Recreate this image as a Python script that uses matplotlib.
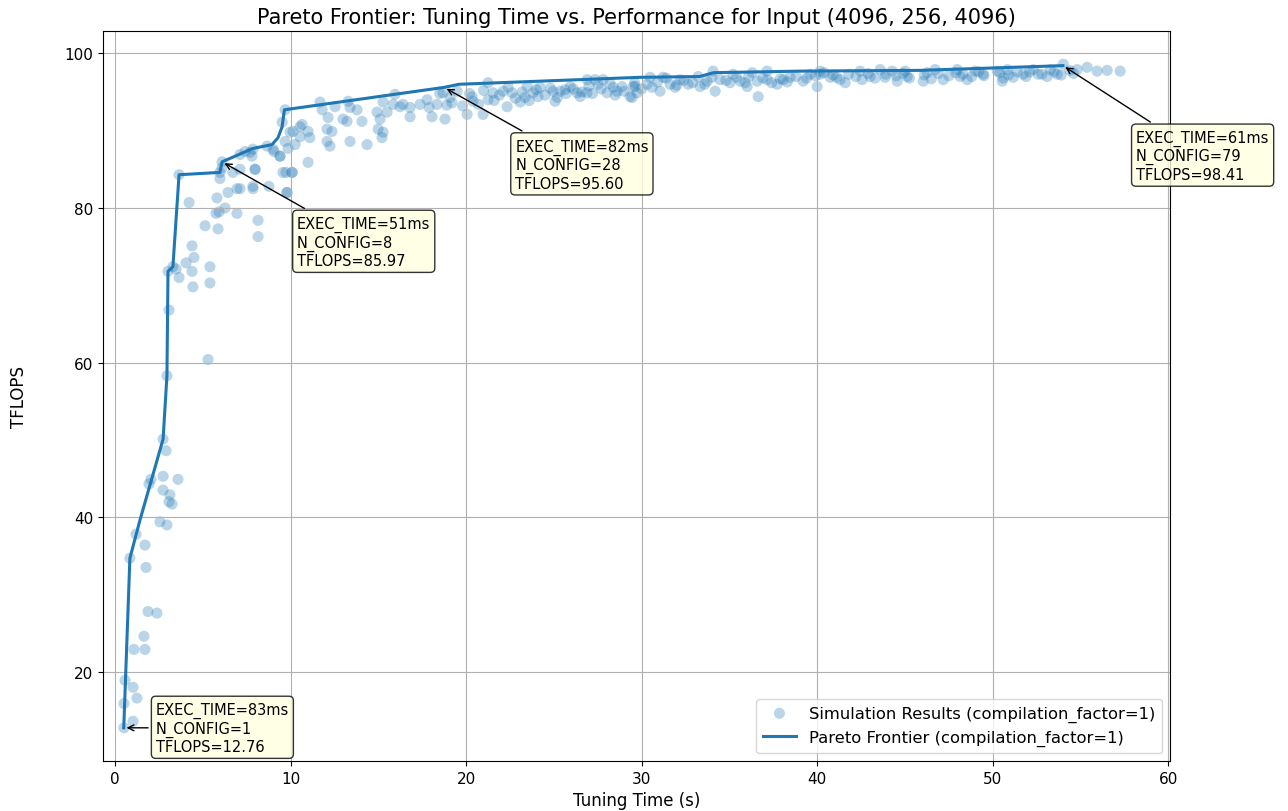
import numpy as np
import matplotlib.pyplot as plt

# simulated tuning runs: cumulative tuning time (s) and achieved TFLOPS
sim_time = [
    0.51, 1.03, 0.51, 1.25, 1.03, 0.57, 1.08, 1.71, 1.65, 1.88, 2.39, 1.77, 0.85,
    1.71, 1.20, 2.56, 2.96, 3.25, 3.08, 3.13, 2.74, 1.94, 2.05, 2.74, 3.59, 2.91,
    2.74, 2.96, 5.30, 3.08, 3.02, 3.30, 3.48, 3.65, 4.05, 4.39, 4.50, 4.39, 4.44,
    5.41, 5.41, 5.13, 5.87, 5.75, 5.93, 6.27, 5.81, 6.95, 4.22, 8.15, 8.15, 3.65,
    5.98, 5.98, 6.10, 6.44, 6.72, 6.95, 7.12, 7.86, 7.86, 7.98, 8.77, 9.80, 9.74,
    10.09, 9.40, 7.12, 7.70, 9.06,
    6.10, 7.12, 7.98, 7.41, 7.86, 7.80, 8.66, 9.00, 9.40, 9.69, 9.57, 10.09, 9.86,
    9.80, 11.00, 9.52, 9.69, 9.97, 10.54, 10.66, 11.00, 11.10, 10.54, 10.14, 10.26,
    11.68, 11.80, 12.14, 12.08, 12.36, 12.08, 12.25, 12.54, 12.99, 13.22, 13.39,
    13.28, 13.79, 14.07, 13.39, 14.36, 14.93, 15.10, 14.99, 15.27, 15.21, 15.50,
    15.27, 15.95, 15.84, 16.24, 16.41, 16.81, 16.81, 17.38, 17.78, 18.06, 18.80,
    18.35, 18.69, 19.09, 19.49, 18.50, 18.90, 17.90,
    20.06, 20.97, 20.40, 20.34, 21.25, 21.25, 21.54, 22.34, 22.11, 22.62, 23.08,
    23.36, 23.48, 23.82, 24.10, 24.22, 25.07, 24.96, 25.36, 25.64, 25.93, 26.32,
    26.50, 26.89, 26.89, 27.35, 27.52, 27.81, 28.03, 28.38, 28.60, 28.89, 29.34,
    29.63,
    19.20, 19.80, 20.20, 20.70, 21.00, 21.60, 21.90, 22.40, 22.80, 23.20, 23.60,
    24.00, 24.50, 24.80, 25.20, 25.70, 26.10, 26.60, 27.00, 27.20, 27.70, 28.20,
    28.50, 29.00, 29.60, 30.00, 30.60,
    29.52, 29.46, 29.74, 30.31, 30.48, 31.05, 31.22, 31.62, 31.91, 32.19, 32.65,
    33.33, 33.22, 33.73, 34.07, 34.19, 34.47, 35.04, 35.21, 35.61, 36.01, 36.30,
    36.64, 36.58, 37.15, 37.15, 37.72, 38.06, 38.46, 39.20, 39.60, 40.00, 40.17,
    30.90, 31.40, 32.00, 32.40, 32.90, 33.60, 34.00, 34.80, 35.40, 35.90, 36.10,
    36.90, 37.40, 37.90, 38.30, 38.80, 39.40, 39.90,
    40.17, 40.74, 41.31, 41.60, 42.45, 42.56, 43.02, 43.59, 43.87, 44.27, 44.56,
    45.01, 45.13, 46.04, 46.27, 46.72, 47.18, 47.98, 48.15, 48.55, 49.00, 49.46,
    50.26, 50.54, 50.83, 51.17, 51.74, 52.31, 52.59, 53.28, 53.68, 54.02, 54.81,
    55.38, 55.95, 56.52, 57.26,
    40.40, 40.90, 41.10, 41.80, 42.20, 42.90, 43.30, 43.90, 44.50, 44.90, 45.25,
    46.10, 46.50, 46.90, 47.50, 47.90, 48.30, 48.80, 49.20, 49.50, 50.40, 50.60,
    50.90, 51.40, 51.90, 52.10, 52.80, 53.10, 53.50, 53.90, 54.40, 54.60,
]
sim_tflops = [
    12.76, 13.6, 15.9, 16.6, 18.0, 18.9, 22.9, 22.9, 24.6, 27.8, 27.6, 33.5, 34.7,
    36.4, 37.8, 39.4, 39.0, 41.7, 42.0, 42.9, 43.5, 44.3, 44.9, 45.3, 44.9, 48.6,
    50.1, 58.3, 60.4, 66.8, 71.8, 72.4, 72.1, 71.0, 72.9, 71.8, 73.6, 75.1, 69.8,
    72.4, 70.3, 77.7, 77.3, 79.3, 79.5, 80.0, 81.3, 79.3, 80.7, 78.4, 76.3, 84.3,
    83.8, 84.6, 85.97, 82.0, 84.6, 82.5, 82.5, 82.5, 82.8, 85.0, 82.8, 82.0, 84.6,
    84.6, 86.7, 86.9, 87.2, 87.3,
    85.2, 85.0, 85.0, 87.3, 87.6, 86.7, 88.0, 87.6, 86.7, 88.6, 84.6, 84.6, 87.7,
    82.0, 85.9, 91.1, 92.7, 89.8, 90.5, 90.8, 89.9, 89.1, 89.2, 89.9, 88.2,
    93.7, 92.7, 91.7, 90.2, 89.9, 88.6, 88.0, 93.1, 91.5, 91.2, 93.0,
    93.8, 92.7, 91.2, 88.6, 88.2, 92.4, 91.5, 90.2, 89.8, 89.1, 92.4,
    93.7, 94.7, 93.4, 93.1, 93.4, 93.0, 91.8, 93.4, 94.0, 91.8, 91.5,
    93.4, 94.9, 94.3, 95.1, 94.8, 93.3, 93.0,
    92.1, 92.1, 93.8, 94.4, 96.2, 94.0, 94.9, 93.1, 95.1, 94.9, 93.7,
    94.3, 95.7, 94.9, 94.4, 95.6, 93.8, 95.1, 95.1, 95.3, 95.7, 94.9,
    94.4, 94.9, 96.6, 96.6, 96.0, 96.6, 94.9, 95.6, 95.1, 95.7, 94.4,
    95.7,
    93.6, 93.2, 94.8, 93.4, 95.2, 93.9, 94.6, 95.6, 94.2, 95.0, 93.9,
    95.3, 94.6, 95.5, 94.3, 94.8, 95.4, 95.0, 95.8, 94.8, 95.4, 96.1,
    94.6, 95.1, 96.2, 95.4, 95.6,
    95.7, 94.3, 94.9, 96.0, 96.9, 95.1, 96.9, 96.0, 95.6, 96.6, 96.0,
    95.7, 97.0, 96.4, 97.7, 95.1, 96.6, 96.2, 97.3, 96.4, 95.7, 97.5,
    94.4, 96.4, 96.6, 97.7, 96.0, 96.6, 96.9, 96.4, 97.3, 95.7, 97.7,
    96.3, 96.8, 95.9, 96.5, 96.2, 96.0, 96.9, 96.5, 96.9, 96.2, 97.0,
    96.8, 96.2, 96.7, 96.3, 97.0, 96.8, 97.1,
    97.3, 96.9, 96.6, 96.2, 97.7, 96.6, 97.0, 97.9, 96.9, 97.7, 96.4,
    97.7, 97.0, 96.4, 97.5, 97.9, 96.6, 97.9, 97.0, 96.6, 97.7, 97.3,
    97.7, 96.4, 97.9, 96.9, 97.3, 97.9, 97.3, 97.9, 97.3, 98.6, 97.9,
    98.2, 97.7, 97.8, 97.7,
    97.5, 97.2, 96.9, 97.3, 97.0, 97.4, 96.8, 97.3, 97.1, 97.4, 96.8,
    97.2, 96.7, 97.4, 97.1, 97.5, 97.3, 97.0, 97.6, 97.1, 97.5, 96.8,
    97.2, 97.6, 97.0, 97.6, 97.3, 97.0, 97.6, 97.2, 97.8, 97.4,
]

# non-dominated configurations
pareto_time = [0.50, 0.85, 1.42, 2.74, 2.96, 3.02, 3.30, 3.65, 5.98, 6.10, 7.86,
               8.95, 9.29, 9.52, 9.65, 18.75, 19.60, 29.90, 33.30, 34.10, 39.00,
               45.90, 54.00]
pareto_tflops = [12.76, 34.7, 39.6, 50.1, 58.3, 71.8, 72.4, 84.3, 84.6, 85.97, 87.7,
                 88.2, 89.1, 90.5, 92.7, 95.60, 96.0, 96.9, 97.0, 97.5, 97.7,
                 97.8, 98.41]

# highlighted frontier configs
ann_time = [0.50, 6.10, 18.75, 54.00]
ann_exec = [83, 51, 82, 61]
ann_nconf = [1, 8, 28, 79]
ann_tflops = [12.76, 85.97, 95.60, 98.41]
ann_offset = [(32, 26), (75, -54), (71, -51), (73, -64)]

fig = plt.figure(figsize=(12.88, 8.12), dpi=100)
ax = fig.add_axes([0.080, 0.0616, 0.8284, 0.899])

ax.scatter(sim_time, sim_tflops, s=64, alpha=0.3, color='C0', edgecolors='none',
           label='Simulation Results (compilation_factor=1)')
ax.plot(pareto_time, pareto_tflops, color='C0', lw=2.2,
        label='Pareto Frontier (compilation_factor=1)')

for t, e, n, f, off in zip(ann_time, ann_exec, ann_nconf, ann_tflops, ann_offset):
    ax.annotate(f'EXEC_TIME={e}ms\nN_CONFIG={n}\nTFLOPS={f:.2f}',
                xy=(t, f), xytext=off, textcoords='offset pixels',
                ha='left', va='top', fontsize=10.5,
                bbox=dict(boxstyle='round,pad=0.3', fc='lightyellow', ec='black', alpha=0.8),
                arrowprops=dict(arrowstyle='->', color='black'))

ax.set_xlim(-0.68, 60.1)
ax.set_xlabel('Tuning Time (s)', fontsize=12)
ax.set_ylabel('TFLOPS', fontsize=12, labelpad=26)
ax.set_title('Pareto Frontier: Tuning Time vs. Performance for Input (4096, 256, 4096)', fontsize=15)
ax.tick_params(labelsize=11)
ax.legend(loc='lower right', fontsize=11.8)
ax.grid(True)

plt.savefig('out.png')
